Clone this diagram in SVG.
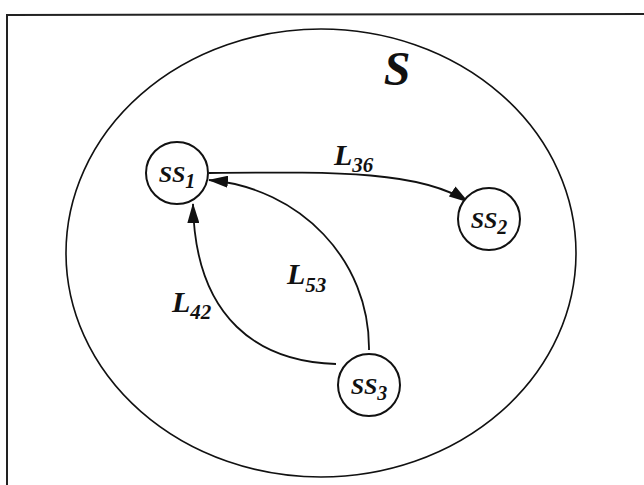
<svg xmlns="http://www.w3.org/2000/svg" width="644" height="485" viewBox="0 0 644 485">
<style>
.lbl{font-family:"Liberation Serif","Times New Roman",serif;font-style:italic;font-weight:bold;fill:#111}
.node{fill:#fff;stroke:#111;stroke-width:2}
.conn{fill:none;stroke:#111;stroke-width:1.8}
.sub{font-size:20px}
.lsub{font-size:21px}
</style>
<defs>
<marker id="ah" markerWidth="20" markerHeight="12" refX="19" refY="6" orient="auto" markerUnits="userSpaceOnUse">
<path d="M0,0 L20,6 L0,12 Z" fill="#111"/>
</marker>
</defs>
<rect x="0" y="0" width="644" height="485" fill="#fff"/>
<g id="frame" fill="none" stroke="#222" stroke-width="2">
<path d="M7,485 L7,15 L644,14"/>
</g>
<g id="S">
<ellipse cx="321" cy="253" rx="255" ry="224" fill="none" stroke="#111" stroke-width="1.6"/>
<text class="lbl" x="397" y="85" font-size="48" text-anchor="middle">S</text>
</g>
<g id="connectors">
<path class="conn" d="M209,173 C330,172 420,170 468,202" marker-end="url(#ah)"/>
<path class="conn" d="M369,350 C370,260 300,188 209,180" marker-end="url(#ah)"/>
<path class="conn" d="M336,364 C260,362 195,320 193,204" marker-end="url(#ah)"/>
<text class="lbl" x="334" y="165" font-size="30">L<tspan class="lsub" dy="7">36</tspan></text>
<text class="lbl" x="287" y="284" font-size="30">L<tspan class="lsub" dy="8">53</tspan></text>
<text class="lbl" x="172" y="312" font-size="30">L<tspan class="lsub" dy="7">42</tspan></text>
</g>
<g id="SS1">
<circle class="node" cx="177" cy="173" r="31"/>
<text class="lbl" x="177" y="182" font-size="24" text-anchor="middle">SS<tspan class="sub" dy="6">1</tspan></text>
</g>
<g id="SS2">
<circle class="node" cx="489" cy="219" r="31"/>
<text class="lbl" x="489" y="228" font-size="24" text-anchor="middle">SS<tspan class="sub" dy="6">2</tspan></text>
</g>
<g id="SS3">
<circle class="node" cx="369" cy="385" r="31"/>
<text class="lbl" x="369" y="394" font-size="24" text-anchor="middle">SS<tspan class="sub" dy="6">3</tspan></text>
</g>
</svg>
